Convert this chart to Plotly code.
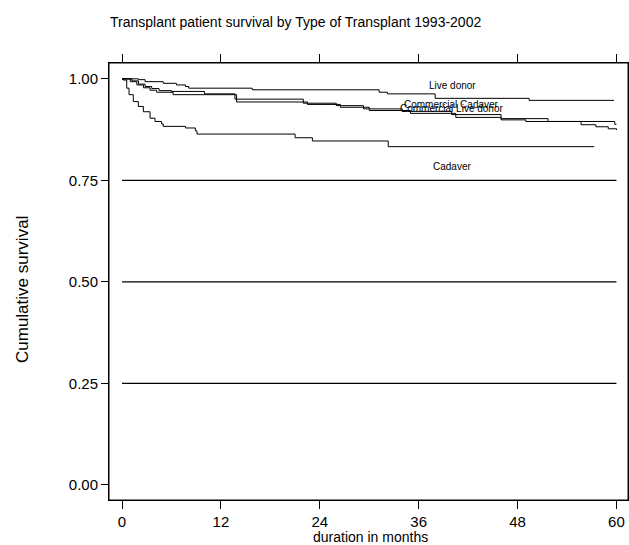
import plotly.graph_objects as go

# Kaplan-Meier step curves (months, cumulative survival)
live_t = [0, 2.0, 2.8, 5.0, 6.6, 7.7, 8.1, 15.8, 31.2, 32.2, 38.0, 49.4, 59.7]
live_s = [1.0, 0.998, 0.993, 0.989, 0.985, 0.981, 0.977, 0.973, 0.967, 0.963, 0.952, 0.947, 0.947]

comcad_t = [0, 1.2, 2.0, 2.8, 3.6, 4.5, 6.0, 10.0, 13.7, 22.0, 26.0, 29.3, 34.0, 40.0, 46.0, 51.7, 59.8, 60.0]
comcad_s = [1.0, 0.995, 0.987, 0.981, 0.976, 0.971, 0.969, 0.963, 0.950, 0.940, 0.934, 0.926, 0.920, 0.912, 0.902, 0.895, 0.888, 0.888]

comlive_t = [0, 1.0, 1.8, 2.6, 3.4, 4.2, 6.2, 13.9, 22.5, 26.5, 30.0, 35.0, 40.5, 46.0, 49.0, 55.7, 57.5, 59.0, 60.0]
comlive_s = [1.0, 0.993, 0.985, 0.978, 0.972, 0.967, 0.961, 0.943, 0.937, 0.930, 0.922, 0.915, 0.905, 0.899, 0.895, 0.887, 0.882, 0.877, 0.874]

cad_t = [0, 0.16, 0.57, 0.85, 1.37, 1.98, 2.59, 3.4, 4.0, 4.8, 5.0, 7.7, 8.9, 9.1, 21.0, 23.1, 32.3, 57.3]
cad_s = [1.0, 0.997, 0.977, 0.961, 0.944, 0.932, 0.919, 0.903, 0.895, 0.889, 0.883, 0.879, 0.872, 0.864, 0.855, 0.847, 0.833, 0.833]

series_names = ["Live donor", "Commercial Cadaver", "Commercial Live donor", "Cadaver"]
label_x = [40.1, 40.0, 40.0, 40.0]
label_y = [0.983, 0.937, 0.927, 0.783]

x_ticks = [0, 12, 24, 36, 48, 60]
y_ticks = [0.0, 0.25, 0.5, 0.75, 1.0]
y_ticklabels = ["0.00", "0.25", "0.50", "0.75", "1.00"]
ref_lines = [0.25, 0.5, 0.75]

FONT = "Liberation Sans Narrow, Arial Narrow, Liberation Sans, Arial, sans-serif"

W, H = 629, 545
L, R, T, B = 109, 1, 63, 45

fig = go.Figure()
for name, t, s in [("Live donor", live_t, live_s),
                   ("Commercial Cadaver", comcad_t, comcad_s),
                   ("Commercial Live donor", comlive_t, comlive_s),
                   ("Cadaver", cad_t, cad_s)]:
    fig.add_trace(go.Scatter(x=t, y=s, mode="lines", name=name,
                             line=dict(color="black", width=1, shape="hv"),
                             showlegend=False, hoverinfo="skip"))

for name, lx, ly in zip(series_names, label_x, label_y):
    fig.add_annotation(x=lx, y=ly, text=name, showarrow=False,
                       font=dict(family=FONT, size=10, color="black"),
                       xanchor="center", yanchor="middle")

for yv in ref_lines:
    fig.add_shape(type="line", xref="x", yref="y", x0=0, x1=60, y0=yv, y1=yv,
                  line=dict(color="black", width=1.3))

fig.add_shape(type="rect", xref="paper", yref="paper", x0=0, x1=1, y0=0, y1=1,
              line=dict(color="black", width=1))

# axis titles
fig.add_annotation(xref="paper", yref="paper", x=(370 - L) / (W - L - R),
                   y=-(537 - (H - B)) / (H - T - B), text="duration in months",
                   showarrow=False, xanchor="center", yanchor="middle",
                   font=dict(family=FONT, size=14, color="black"))
fig.add_annotation(xref="paper", yref="paper", x=-(109 - 22) / (W - L - R),
                   y=((H - B) - 290) / (H - T - B), text="Cumulative survival",
                   textangle=-90, showarrow=False, xanchor="center", yanchor="middle",
                   font=dict(family=FONT, size=17, color="black"))

fig.update_layout(
    width=W, height=H,
    margin=dict(l=L, r=R, t=T, b=B, autoexpand=False),
    paper_bgcolor="white", plot_bgcolor="white",
    font=dict(family=FONT, color="black", size=13),
    hovermode=False,
    title=dict(text="Transplant patient survival by Type of Transplant 1993-2002",
               x=110 / W, xanchor="left", y=1 - 22 / H, yanchor="middle",
               font=dict(family=FONT, size=14, color="black")),
)
fig.update_xaxes(range=[-1.58, 61.4], tickvals=x_ticks, ticks="outside", ticklen=8,
                 tickwidth=1, tickcolor="black", showline=True, linecolor="black",
                 linewidth=1, mirror="allticks", showgrid=False, zeroline=False,
                 automargin=False, tickfont=dict(family=FONT, size=15))
fig.update_yaxes(range=[-0.037, 1.039], tickvals=y_ticks, ticktext=y_ticklabels,
                 ticks="outside", ticklen=7, tickwidth=1, tickcolor="black",
                 showline=True, linecolor="black", linewidth=1, mirror="allticks",
                 showgrid=False, zeroline=False, automargin=False,
                 tickfont=dict(family=FONT, size=15))

fig.write_html("out.html",
               config={"displayModeBar": False, "staticPlot": True},
               post_script="document.body.style.margin='0';"
                           "document.documentElement.style.overflow='hidden';"
                           "document.body.style.overflow='hidden';")
